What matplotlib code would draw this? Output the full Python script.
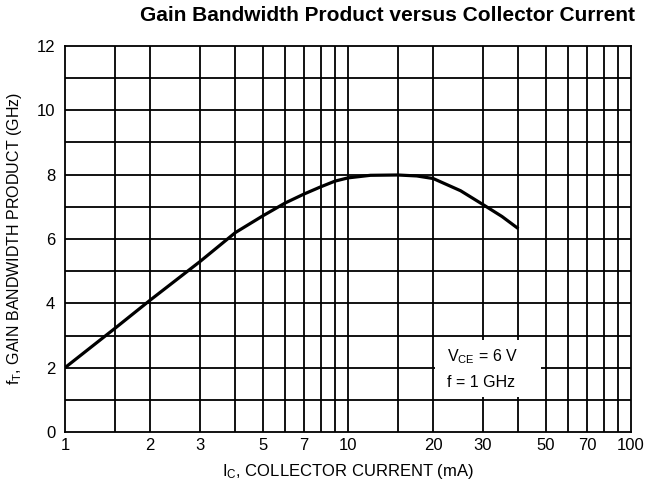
import numpy as np
import matplotlib
matplotlib.use('Agg')
import matplotlib.pyplot as plt
from matplotlib.patches import Rectangle

plt.rcParams['font.family'] = ['Liberation Sans', 'DejaVu Sans']
plt.rcParams['mathtext.fontset'] = 'custom'
plt.rcParams['mathtext.rm'] = 'Liberation Sans'

# curve
Ic = [1, 1.5, 2, 3, 4, 5, 6, 7, 8, 9, 10, 12, 15, 17.5, 20, 25, 30, 35, 40]
fT = [2.0, 3.22, 4.1, 5.3, 6.2, 6.72, 7.12, 7.4, 7.62, 7.8, 7.9, 7.98, 7.99, 7.96, 7.88, 7.5, 7.07, 6.7, 6.32]

xgrid = [1.5, 2, 3, 4, 5, 6, 7, 8, 9, 10, 15, 20, 30, 40, 50, 60, 70, 80, 90]
xticks = [1, 2, 3, 5, 7, 10, 20, 30, 50, 70, 100]
yticks = [0, 2, 4, 6, 8, 10, 12]
ygrid = list(range(1, 12))

fig = plt.figure(figsize=(6.52, 4.95), dpi=100)
ax = fig.add_axes([65/652, 1-432/495, (631-65)/652, (432-46)/495])
ax.set_xscale('log')
ax.set_xlim(1, 100)
ax.set_ylim(0, 12)

lw = 1.3
for x in xgrid:
    ax.axvline(x, color='black', lw=lw, zorder=1)
for y in ygrid:
    ax.axhline(y, color='black', lw=lw, zorder=1)
for s in ax.spines.values():
    s.set_linewidth(lw)

ax.plot(Ic, fT, color='black', lw=2.3, zorder=4, solid_capstyle='butt', solid_joinstyle='round')

# white label box over the grid
ax.add_patch(Rectangle((20.3, 1.1), 48-20.3, 1.75, facecolor='white', edgecolor='none', zorder=3))
ax.text(22.3, 2.35, r'$\mathregular{V_{CE}}$ = 6 V', fontsize=11.5, va='center', zorder=5)
ax.text(22.3, 1.55, 'f = 1 GHz', fontsize=11.5, va='center', zorder=5)

ax.set_xticks(xticks)
ax.set_xticklabels([str(t) for t in xticks])
ax.xaxis.set_minor_locator(matplotlib.ticker.NullLocator())
ax.set_yticks(yticks)
ax.tick_params(length=0, labelsize=12)
ax.tick_params(axis='x', pad=4)
ax.tick_params(axis='y', pad=7)

ax.set_xlabel(r'$\mathregular{I_C}$, COLLECTOR CURRENT (mA)', fontsize=12, labelpad=7)
ax.set_ylabel(r'$\mathregular{f_T}$, GAIN BANDWIDTH PRODUCT (GHz)', fontsize=11.5, labelpad=9)
fig.text(0.595, 0.968, 'Gain Bandwidth Product versus Collector Current',
         fontsize=15, fontweight='bold', ha='center', va='center')

fig.savefig('out.png', dpi=100)
